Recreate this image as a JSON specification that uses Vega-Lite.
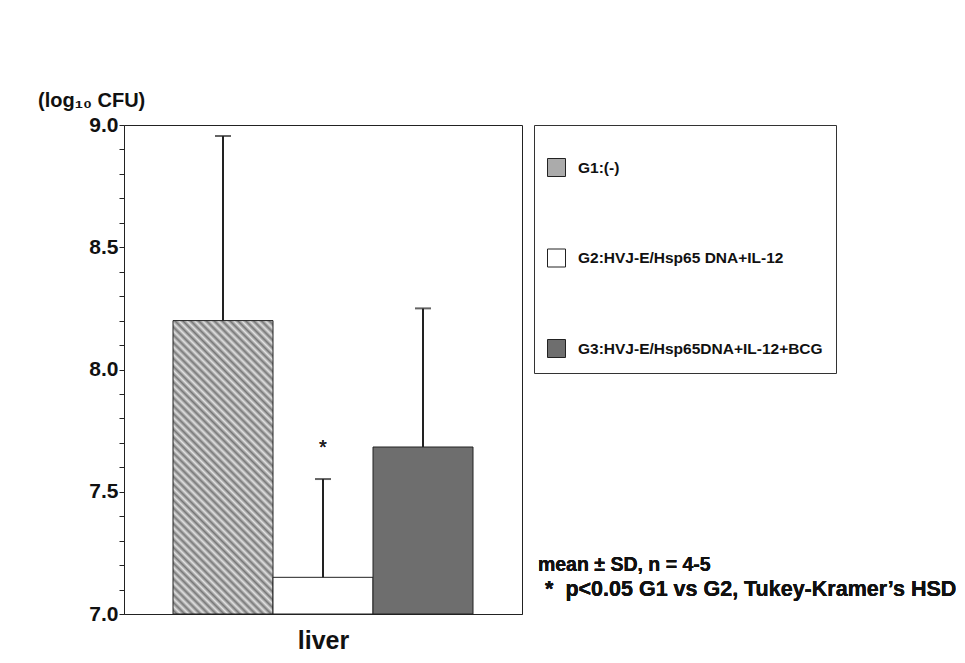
{
  "$schema": "https://vega.github.io/schema/vega-lite/v6.json",
  "autosize": "none",
  "width": 398,
  "height": 489,
  "padding": {"left": 124, "top": 125, "right": 443, "bottom": 49},
  "background": "white",
  "config": {
    "font": "Liberation Sans",
    "view": {"stroke": "#222", "strokeWidth": 1},
    "axisY": {
      "title": null, "grid": false,
      "labelFontSize": 21, "labelFontWeight": "bold", "labelColor": "#111", "labelPadding": 1,
      "tickSize": 5, "tickColor": "#222", "domainColor": "#222", "labelOverlap": false
    }
  },
  "title": {
    "text": "(log₁₀ CFU)",
    "anchor": "start",
    "frame": "group",
    "dx": -86,
    "offset": 3,
    "fontSize": 20,
    "fontWeight": "bold",
    "color": "#111"
  },
  "data": {
    "values": [
      {"group": "G1:(-)", "mean": 8.20, "upper": 8.955},
      {"group": "G2:HVJ-E/Hsp65 DNA+IL-12", "mean": 7.15, "upper": 7.552},
      {"group": "G3:HVJ-E/Hsp65DNA+IL-12+BCG", "mean": 7.683, "upper": 8.25}
    ]
  },
  "resolve": {"scale": {"x": "independent"}, "axis": {"x": "independent"}},
  "layer": [
    {
      "layer": [
        {
          "mark": {"type": "bar", "stroke": "#222", "strokeWidth": 1},
          "encoding": {
            "x": {
              "field": "group", "type": "nominal",
              "scale": {"domain": ["G1:(-)", "G2:HVJ-E/Hsp65 DNA+IL-12", "G3:HVJ-E/Hsp65DNA+IL-12+BCG"], "paddingInner": 0, "paddingOuter": 0.49},
              "axis": {"title": "liver", "labels": false, "ticks": false, "domain": true, "domainColor": "#222", "titleFontSize": 25, "titleFontWeight": "bold", "titleColor": "#111", "titlePadding": 14}
            },
            "y": {
              "field": "mean", "type": "quantitative",
              "scale": {"domain": [7, 9], "zero": false, "nice": false},
              "axis": {"values": [7, 7.1, 7.2, 7.3, 7.4, 7.5, 7.6, 7.7, 7.8, 7.9, 8, 8.1, 8.2, 8.3, 8.4, 8.5, 8.6, 8.7, 8.8, 8.9, 9], "labelExpr": "abs(datum.value*2 - round(datum.value*2)) < 0.01 ? format(datum.value, '.1f') : ''"}
            },
            "y2": {"datum": 7},
            "fill": {
              "condition": {
                "test": "datum.group === 'G1:(-)'",
                "value": {"gradient": "linear", "x1": 0, "y1": 1, "x2": 0.41, "y2": -0.2013, "stops": [
                    {"offset": 0, "color": "#e2e2e2"}, {"offset": 0.01, "color": "#777777"},
                    {"offset": 0.02, "color": "#e2e2e2"}, {"offset": 0.03, "color": "#777777"},
                    {"offset": 0.04, "color": "#e2e2e2"}, {"offset": 0.05, "color": "#777777"},
                    {"offset": 0.06, "color": "#e2e2e2"}, {"offset": 0.07, "color": "#777777"},
                    {"offset": 0.08, "color": "#e2e2e2"}, {"offset": 0.09, "color": "#777777"},
                    {"offset": 0.10, "color": "#e2e2e2"}, {"offset": 0.11, "color": "#777777"},
                    {"offset": 0.12, "color": "#e2e2e2"}, {"offset": 0.13, "color": "#777777"},
                    {"offset": 0.14, "color": "#e2e2e2"}, {"offset": 0.15, "color": "#777777"},
                    {"offset": 0.16, "color": "#e2e2e2"}, {"offset": 0.17, "color": "#777777"},
                    {"offset": 0.18, "color": "#e2e2e2"}, {"offset": 0.19, "color": "#777777"},
                    {"offset": 0.20, "color": "#e2e2e2"}, {"offset": 0.21, "color": "#777777"},
                    {"offset": 0.22, "color": "#e2e2e2"}, {"offset": 0.23, "color": "#777777"},
                    {"offset": 0.24, "color": "#e2e2e2"}, {"offset": 0.25, "color": "#777777"},
                    {"offset": 0.26, "color": "#e2e2e2"}, {"offset": 0.27, "color": "#777777"},
                    {"offset": 0.28, "color": "#e2e2e2"}, {"offset": 0.29, "color": "#777777"},
                    {"offset": 0.30, "color": "#e2e2e2"}, {"offset": 0.31, "color": "#777777"},
                    {"offset": 0.32, "color": "#e2e2e2"}, {"offset": 0.33, "color": "#777777"},
                    {"offset": 0.34, "color": "#e2e2e2"}, {"offset": 0.35, "color": "#777777"},
                    {"offset": 0.36, "color": "#e2e2e2"}, {"offset": 0.37, "color": "#777777"},
                    {"offset": 0.38, "color": "#e2e2e2"}, {"offset": 0.39, "color": "#777777"},
                    {"offset": 0.40, "color": "#e2e2e2"}, {"offset": 0.41, "color": "#777777"},
                    {"offset": 0.42, "color": "#e2e2e2"}, {"offset": 0.43, "color": "#777777"},
                    {"offset": 0.44, "color": "#e2e2e2"}, {"offset": 0.45, "color": "#777777"},
                    {"offset": 0.46, "color": "#e2e2e2"}, {"offset": 0.47, "color": "#777777"},
                    {"offset": 0.48, "color": "#e2e2e2"}, {"offset": 0.49, "color": "#777777"},
                    {"offset": 0.50, "color": "#e2e2e2"}, {"offset": 0.51, "color": "#777777"},
                    {"offset": 0.52, "color": "#e2e2e2"}, {"offset": 0.53, "color": "#777777"},
                    {"offset": 0.54, "color": "#e2e2e2"}, {"offset": 0.55, "color": "#777777"},
                    {"offset": 0.56, "color": "#e2e2e2"}, {"offset": 0.57, "color": "#777777"},
                    {"offset": 0.58, "color": "#e2e2e2"}, {"offset": 0.59, "color": "#777777"},
                    {"offset": 0.60, "color": "#e2e2e2"}, {"offset": 0.61, "color": "#777777"},
                    {"offset": 0.62, "color": "#e2e2e2"}, {"offset": 0.63, "color": "#777777"},
                    {"offset": 0.64, "color": "#e2e2e2"}, {"offset": 0.65, "color": "#777777"},
                    {"offset": 0.66, "color": "#e2e2e2"}, {"offset": 0.67, "color": "#777777"},
                    {"offset": 0.68, "color": "#e2e2e2"}, {"offset": 0.69, "color": "#777777"},
                    {"offset": 0.70, "color": "#e2e2e2"}, {"offset": 0.71, "color": "#777777"},
                    {"offset": 0.72, "color": "#e2e2e2"}, {"offset": 0.73, "color": "#777777"},
                    {"offset": 0.74, "color": "#e2e2e2"}, {"offset": 0.75, "color": "#777777"},
                    {"offset": 0.76, "color": "#e2e2e2"}, {"offset": 0.77, "color": "#777777"},
                    {"offset": 0.78, "color": "#e2e2e2"}, {"offset": 0.79, "color": "#777777"},
                    {"offset": 0.80, "color": "#e2e2e2"}, {"offset": 0.81, "color": "#777777"},
                    {"offset": 0.82, "color": "#e2e2e2"}, {"offset": 0.83, "color": "#777777"},
                    {"offset": 0.84, "color": "#e2e2e2"}, {"offset": 0.85, "color": "#777777"},
                    {"offset": 0.86, "color": "#e2e2e2"}, {"offset": 0.87, "color": "#777777"},
                    {"offset": 0.88, "color": "#e2e2e2"}, {"offset": 0.89, "color": "#777777"},
                    {"offset": 0.90, "color": "#e2e2e2"}, {"offset": 0.91, "color": "#777777"},
                    {"offset": 0.92, "color": "#e2e2e2"}, {"offset": 0.93, "color": "#777777"},
                    {"offset": 0.94, "color": "#e2e2e2"}, {"offset": 0.95, "color": "#777777"},
                    {"offset": 0.96, "color": "#e2e2e2"}, {"offset": 0.97, "color": "#777777"},
                    {"offset": 0.98, "color": "#e2e2e2"}, {"offset": 0.99, "color": "#777777"},
                    {"offset": 1, "color": "#e2e2e2"}
                  ]}
              },
              "field": "group", "type": "nominal",
              "scale": {
                "domain": ["G1:(-)", "G2:HVJ-E/Hsp65 DNA+IL-12", "G3:HVJ-E/Hsp65DNA+IL-12+BCG"],
                "range": ["#ababab", "#ffffff", "#6e6e6e"]
              },
              "legend": {
                "title": " ", "titleFontSize": 10, "titlePadding": 10,
                "orient": "none", "legendX": 410, "legendY": 0,
                "direction": "vertical",
                "symbolType": "square", "symbolSize": 324, "symbolStrokeColor": "#222", "symbolStrokeWidth": 1,
                "labelFontSize": 15.5, "labelFontWeight": "bold", "labelColor": "#111", "labelLimit": 300, "labelOffset": 12,
                "rowPadding": 67.5, "padding": 13, "strokeColor": "#333"
              }
            }
          }
        },
        {
          "mark": {"type": "rule", "color": "#222", "strokeWidth": 2},
          "encoding": {
            "x": {"field": "group", "type": "nominal"},
            "y": {"field": "mean", "type": "quantitative", "axis": {"values": [7, 7.1, 7.2, 7.3, 7.4, 7.5, 7.6, 7.7, 7.8, 7.9, 8, 8.1, 8.2, 8.3, 8.4, 8.5, 8.6, 8.7, 8.8, 8.9, 9], "labelExpr": "abs(datum.value*2 - round(datum.value*2)) < 0.01 ? format(datum.value, '.1f') : ''"}},
            "y2": {"field": "upper"}
          }
        },
        {
          "mark": {"type": "tick", "color": "#222", "size": 16, "thickness": 2},
          "encoding": {
            "x": {"field": "group", "type": "nominal"},
            "y": {"field": "upper", "type": "quantitative", "axis": {"values": [7, 7.1, 7.2, 7.3, 7.4, 7.5, 7.6, 7.7, 7.8, 7.9, 8, 8.1, 8.2, 8.3, 8.4, 8.5, 8.6, 8.7, 8.8, 8.9, 9], "labelExpr": "abs(datum.value*2 - round(datum.value*2)) < 0.01 ? format(datum.value, '.1f') : ''"}}
          }
        },
        {
          "mark": {"type": "text", "fontSize": 20, "baseline": "middle", "align": "center", "color": "#222"},
          "encoding": {
            "x": {"datum": "G2:HVJ-E/Hsp65 DNA+IL-12", "type": "nominal"},
            "y": {"datum": 7.68, "type": "quantitative", "axis": {"values": [7, 7.1, 7.2, 7.3, 7.4, 7.5, 7.6, 7.7, 7.8, 7.9, 8, 8.1, 8.2, 8.3, 8.4, 8.5, 8.6, 8.7, 8.8, 8.9, 9], "labelExpr": "abs(datum.value*2 - round(datum.value*2)) < 0.01 ? format(datum.value, '.1f') : ''"}},
            "text": {"value": "*"}
          }
        }
      ]
    },
    {
      "layer": [
        {
          "mark": {"type": "text", "fontSize": 19.5, "fontWeight": "bold", "align": "left", "baseline": "middle", "color": "#111"},
          "encoding": {
            "x": {"datum": 1.04, "type": "quantitative", "scale": {"domain": [0, 1]}, "axis": null},
            "y": {"datum": 7.2, "type": "quantitative", "axis": {"values": [7, 7.1, 7.2, 7.3, 7.4, 7.5, 7.6, 7.7, 7.8, 7.9, 8, 8.1, 8.2, 8.3, 8.4, 8.5, 8.6, 8.7, 8.8, 8.9, 9], "labelExpr": "abs(datum.value*2 - round(datum.value*2)) < 0.01 ? format(datum.value, '.1f') : ''"}},
            "text": {"value": "mean ± SD, n = 4-5"}
          }
        },
        {
          "mark": {"type": "text", "fontSize": 21.5, "fontWeight": "bold", "align": "left", "baseline": "middle", "color": "#111"},
          "encoding": {
            "x": {"datum": 1.058, "type": "quantitative", "scale": {"domain": [0, 1]}, "axis": null},
            "y": {"datum": 7.1, "type": "quantitative", "axis": {"values": [7, 7.1, 7.2, 7.3, 7.4, 7.5, 7.6, 7.7, 7.8, 7.9, 8, 8.1, 8.2, 8.3, 8.4, 8.5, 8.6, 8.7, 8.8, 8.9, 9], "labelExpr": "abs(datum.value*2 - round(datum.value*2)) < 0.01 ? format(datum.value, '.1f') : ''"}},
            "text": {"value": "*\u00a0\u00a0p<0.05 G1 vs G2, Tukey-Kramer’s HSD"}
          }
        }
      ]
    }
  ]
}
